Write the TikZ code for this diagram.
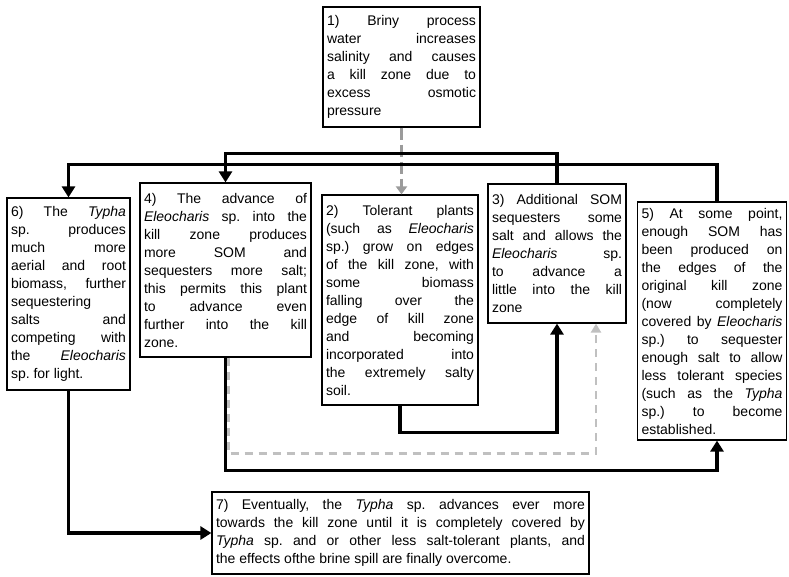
\documentclass[tikz,border=0pt]{standalone}
\usepackage{fontspec}
\setmainfont{Liberation Sans}
\usetikzlibrary{arrows.meta}
\tolerance=10000
\hbadness=10000
\frenchspacing
\definecolor{midgrey}{RGB}{155,155,155}
\definecolor{palegrey}{RGB}{192,192,192}
\tikzset{
    stagebox/.style={draw, line width=1.2pt, fill=white, align=justify,
        inner xsep=4pt, inner ysep=3pt, font=\fontsize{14}{18}\selectfont},
    flow/.style={line width=3.5pt, -{Triangle[length=11pt,width=13pt]}},
    spillflow/.style={midgrey, line width=3.5pt, dash pattern=on 12pt off 5pt,
        -{Triangle[length=8pt,width=11pt]}},
    backflow/.style={palegrey, line width=2.5pt, dash pattern=on 8pt off 6pt,
        -{Triangle[length=9pt,width=10pt]}}
}

\begin{document}
\begin{tikzpicture}[x=1pt, y=-1pt]
\useasboundingbox (0,0) rectangle (789,576);

% Nodes
\node[stagebox, text width=149pt, minimum height=120pt] (S1) at (401.5,67)
  {1) Briny process\linebreak{} water increases\linebreak{} salinity and causes\linebreak{}
   a kill zone due to\linebreak{} excess osmotic\linebreak{} pressure};
\node[stagebox, text width=115pt, minimum height=192pt] (S6) at (68.5,294)
  {6) The \textit{Typha}\linebreak{} sp. produces\linebreak{} much more\linebreak{}
   aerial and root\linebreak{} biomass, further\linebreak{} sequestering\linebreak{}
   salts and\linebreak{} competing with\linebreak{} the \textit{Eleocharis}\linebreak{} sp. for light.};
\node[stagebox, text width=163pt, minimum height=174pt] (S4) at (225.5,270)
  {4) The advance of\linebreak{} \textit{Eleocharis} sp. into the\linebreak{} kill zone produces\linebreak{}
   more SOM and\linebreak{} sequesters more salt;\linebreak{} this permits this plant\linebreak{}
   to advance even\linebreak{} further into the kill\linebreak{} zone.};
\node[stagebox, text width=148pt, minimum height=210pt] (S2) at (400,300)
  {2) Tolerant plants\linebreak{} (such as \textit{Eleocharis}\linebreak{} sp.) grow on edges\linebreak{}
   of the kill zone, with\linebreak{} some biomass\linebreak{} falling over the\linebreak{}
   edge of kill zone\linebreak{} and becoming\linebreak{} incorporated into\linebreak{}
   the extremely salty\linebreak{} soil.};
\node[stagebox, text width=130pt, minimum height=139pt] (S3) at (557,253.5)
  {3) Additional SOM\linebreak{} sequesters some\linebreak{} salt and allows the\linebreak{}
   \textit{Eleocharis} sp.\linebreak{} to advance a\linebreak{} little into the kill\linebreak{} zone};
\node[stagebox, text width=141pt, minimum height=238pt] (S5) at (712,321)
  {5) At some point,\linebreak{} enough SOM has\linebreak{} been produced on\linebreak{}
   the edges of the\linebreak{} original kill zone\linebreak{} (now completely\linebreak{}
   covered by \textit{Eleocharis}\linebreak{} sp.) to sequester\linebreak{} enough salt to allow\linebreak{}
   less tolerant species\linebreak{} (such as the \textit{Typha}\linebreak{} sp.) to become\linebreak{} established.};
\node[stagebox, text width=369pt, minimum height=82pt] (S7) at (400.5,533)
  {7) Eventually, the \textit{Typha} sp. advances ever more\linebreak{}
   towards the kill zone until it is completely covered by\linebreak{}
   \textit{Typha} sp. and or other less salt-tolerant plants, and\linebreak{}
   the effects ofthe brine spill are finally overcome.};

% Paths
\draw[spillflow] (S1.south) -- (S1.south |- S2.north);
\draw[flow] (S3.north) -- ++(0,-30) -| (S4.north);
\draw[flow] ([xshift=5pt]S5.north) -- ++(0,-37) -| (S6.north);
\draw[flow] (S2.south) -- ++(0,27) -| (S3.south);
\draw[flow] (S4.south) -- ++(0,113) -| ([xshift=5pt]S5.south);
\draw[backflow] ([xshift=3pt]S4.south) -- ++(0,96) -| ([xshift=39pt]S3.south);
\draw[flow] (S6.south) |- (S7.west);

\end{tikzpicture}
\end{document}
